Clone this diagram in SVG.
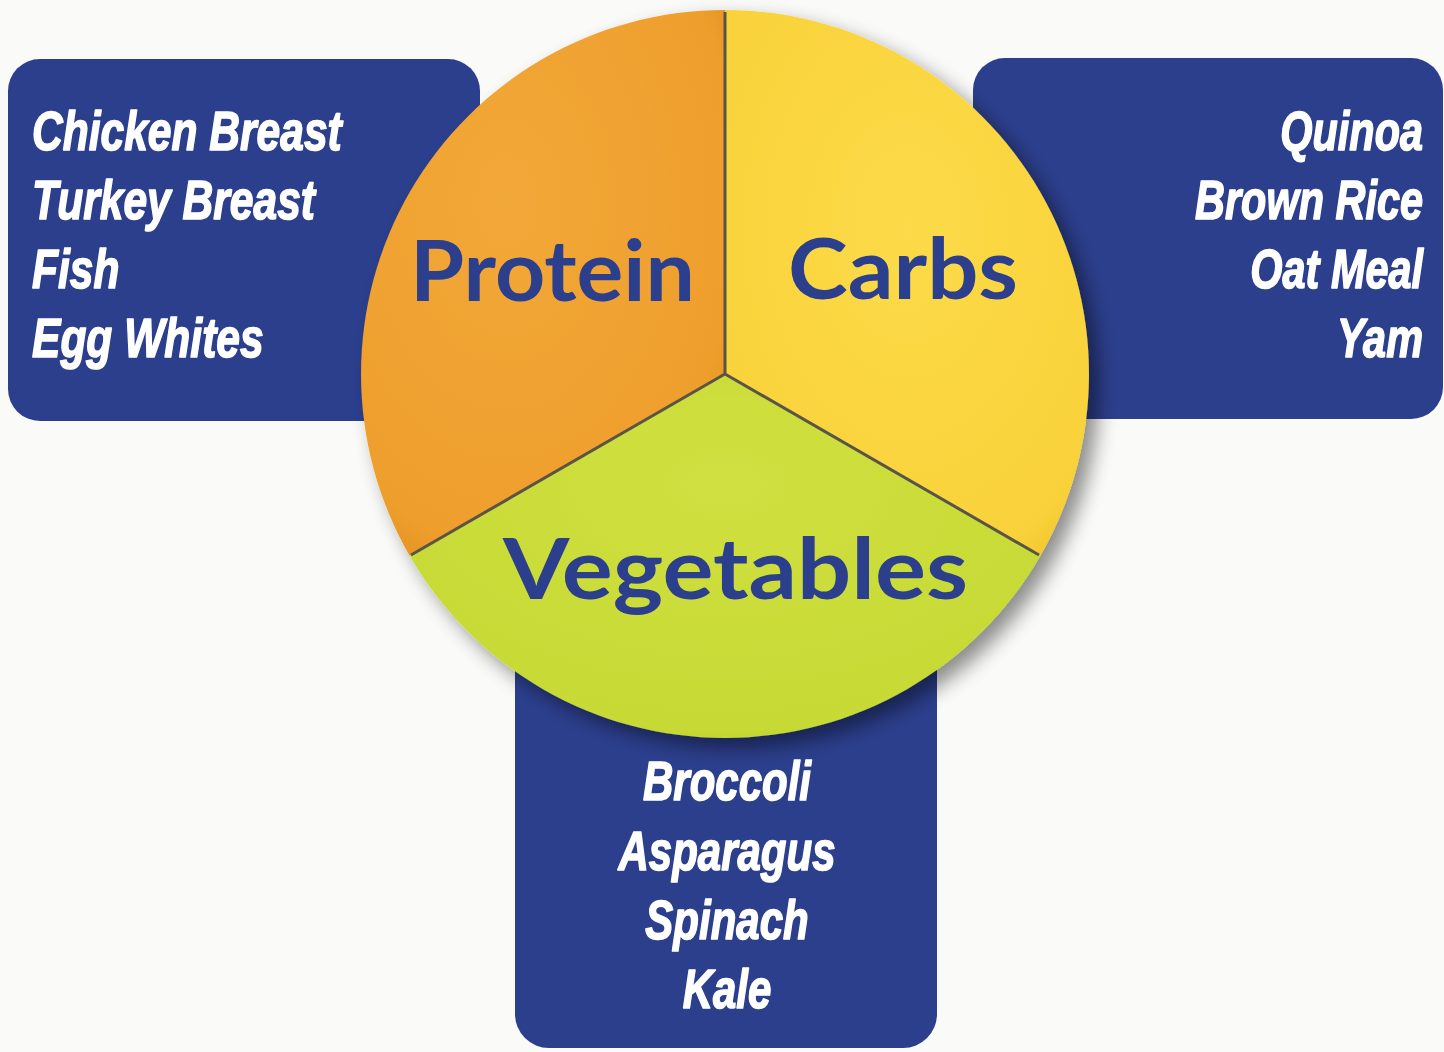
<svg xmlns="http://www.w3.org/2000/svg" width="1444" height="1052" viewBox="0 0 1444 1052">
<defs>
<style>
.box{fill:#2C3F8D;}
.item{font-family:"Liberation Sans",Arial,sans-serif;font-weight:bold;font-style:italic;font-size:56px;fill:#FFFFFF;stroke:#FFFFFF;stroke-width:1.6;stroke-linejoin:round;}
.end{text-anchor:end;}
.mid{text-anchor:middle;}
.lbl{font-family:"Lato","Open Sans","Liberation Sans",sans-serif;font-weight:bold;font-size:84px;fill:#2C3F8D;}
.sep{stroke:#5A5446;stroke-width:3;fill:none;}
</style>
<radialGradient id="gOr" cx="0.4" cy="0.35" r="0.75">
<stop offset="0" stop-color="#F2A838"/><stop offset="0.85" stop-color="#EE9E2C"/><stop offset="1" stop-color="#E08F20"/>
</radialGradient>
<radialGradient id="gYe" cx="0.5" cy="0.4" r="0.75">
<stop offset="0" stop-color="#FCDA48"/><stop offset="0.85" stop-color="#F9D23A"/><stop offset="1" stop-color="#EFC22A"/>
</radialGradient>
<radialGradient id="gGr" cx="0.5" cy="0.3" r="0.8">
<stop offset="0" stop-color="#D0E040"/><stop offset="0.85" stop-color="#C6D934"/><stop offset="1" stop-color="#B6CB28"/>
</radialGradient>
<filter id="sh" x="-20%" y="-20%" width="140%" height="140%">
<feGaussianBlur in="SourceAlpha" stdDeviation="10"/>
<feOffset dx="10" dy="10" result="b"/>
<feComponentTransfer><feFuncA type="linear" slope="0.45"/></feComponentTransfer>
<feMerge><feMergeNode/><feMergeNode in="SourceGraphic"/></feMerge>
</filter>
</defs>
<rect width="1444" height="1052" fill="#FAFAF8"/>

<g id="protein-box">
<rect class="box" x="8" y="59" width="472" height="362" rx="32"/>
<g transform="translate(32,0) scale(0.76,1)">
<text class="item" x="0" y="150">Chicken Breast</text>
<text class="item" x="0" y="219">Turkey Breast</text>
<text class="item" x="0" y="288">Fish</text>
<text class="item" x="0" y="357">Egg Whites</text>
</g>
</g>

<g id="carbs-box">
<rect class="box" x="973" y="58" width="470" height="361" rx="32"/>
<g transform="translate(1423,0) scale(0.74,1)">
<text class="item end" x="0" y="150">Quinoa</text>
<text class="item end" x="0" y="219">Brown Rice</text>
<text class="item end" x="0" y="288">Oat Meal</text>
<text class="item end" x="0" y="357">Yam</text>
</g>
</g>

<g id="vegetables-box">
<rect class="box" x="515" y="560" width="422" height="488" rx="34"/>
<g transform="translate(727,0) scale(0.75,1)">
<text class="item mid" x="0" y="800">Broccoli</text>
<text class="item mid" x="0" y="870">Asparagus</text>
<text class="item mid" x="0" y="939">Spinach</text>
<text class="item mid" x="0" y="1008">Kale</text>
</g>
</g>

<g id="pie" filter="url(#sh)">
<path d="M725,374 L725,10 A364,364 0 0 0 409.8,556 Z" fill="url(#gOr)"/>
<path d="M725,374 L725,10 A364,364 0 0 1 1040.2,556 Z" fill="url(#gYe)"/>
<path d="M725,374 L409.8,556 A364,364 0 0 0 1040.2,556 Z" fill="url(#gGr)"/>
</g>
<g id="connectors">
<path class="sep" d="M725,12 L725,374 L411,555 M725,374 L1039,555"/>
</g>
<g id="labels">
<text class="lbl" x="410" y="301" textLength="285" lengthAdjust="spacingAndGlyphs">Protein</text>
<text class="lbl" x="788" y="299" textLength="230" lengthAdjust="spacingAndGlyphs">Carbs</text>
<text class="lbl" x="503" y="599" textLength="465" lengthAdjust="spacingAndGlyphs">Vegetables</text>
</g>
</svg>
